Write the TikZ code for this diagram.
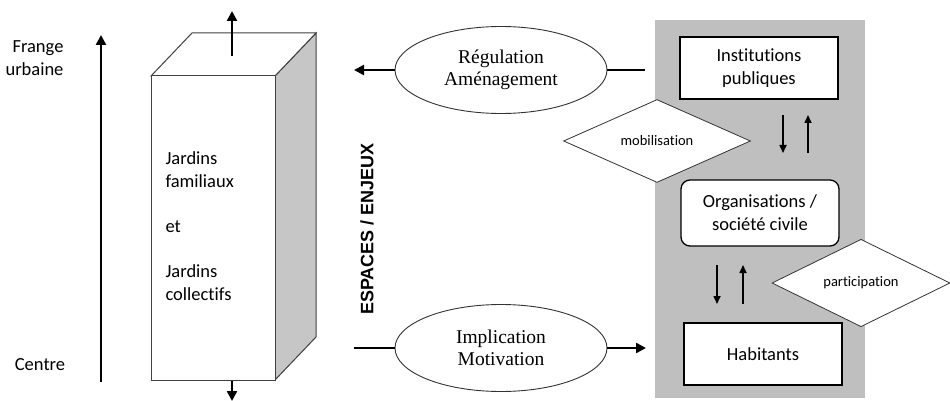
\documentclass[tikz,border=0pt]{standalone}
\usepackage{fontspec}
\setmainfont{Carlito}[Ligatures=NoCommon]
\newfontfamily\timesfont{Liberation Serif}
\newfontfamily\arialfont{Liberation Sans}
\usetikzlibrary{arrows.meta, shapes.geometric, shapes.misc}

\begin{document}
\begin{tikzpicture}[x=1pt, y=-1pt,
    every node/.style={font=\fontsize{18.5}{23}\selectfont},
    box/.style={draw, line width=1.3pt, fill=white, minimum width=158pt, minimum height=62pt, align=center},
    oval/.style={ellipse, draw=black!80, line width=0.9pt, fill=white, minimum width=212pt, minimum height=87pt, inner sep=0pt, align=center, font=\timesfont\fontsize{19.5}{22}\selectfont},
    losange/.style={diamond, draw=black!80, line width=0.8pt, fill=white, inner sep=0pt, font=\fontsize{14.5}{17}\selectfont},
    bigarrow/.style={-{Triangle[length=10pt,width=10pt]}, line width=2.4pt},
    smallarrow/.style={-{Triangle[length=8pt,width=7pt]}, line width=1.6pt}]
                \useasboundingbox (0,0) rectangle (950,401);

                % Centre / frange axis
                \node[align=right, anchor=east] (frange) at (67,58) {Frange\\urbaine};
                \node (centre) at (40,365) {Centre};
                \coordinate (axebas) at (101,382);
                \coordinate (axehaut) at (101,35);
                \draw[bigarrow] (axebas) -- (axehaut);

                % Gardens block
                \draw[draw=black!75, line width=1pt, fill=gray!45] (275,76) -- (316,33) -- (316,337) -- (275,380) -- cycle;
                \draw[draw=black!75, line width=1pt, fill=white] (151,76) -- (192,33) -- (316,33) -- (275,76) -- cycle;
                \node[draw=black!75, line width=1pt, fill=white, minimum width=124pt, minimum height=304pt, inner sep=0pt] (jardins) at (213,228) {};
                \node[anchor=west, align=left] (textejardins) at (162,226) {Jardins\\familiaux\\[22pt]et\\[22pt]Jardins\\collectifs};
                \coordinate (sortiehaut) at (232,56);
                \coordinate (pointehaut) at (232,11);
                \draw[bigarrow] (sortiehaut) -- (pointehaut);
                \coordinate (sortiebas) at (232,381);
                \coordinate (pointebas) at (232,401);
                \draw[bigarrow] (sortiebas) -- (pointebas);

                % Spaces / stakes
                \node[rotate=90, font=\arialfont\bfseries\fontsize{18}{20}\selectfont] (espaces) at (367,229) {ESPACES / ENJEUX};

                % Ovals
                \node[oval] (regulation) at (501,70) {Régulation\\Aménagement};
                \node[oval] (implication) at (501,348) {Implication\\Motivation};
                \coordinate (regfin) at (354,70);
                \coordinate (regdebut) at (645,70);
                \draw[bigarrow] (regulation.west) -- (regfin);
                \draw[line width=2.4pt] (regdebut) -- (regulation.east);
                \coordinate (impdebut) at (354,348);
                \coordinate (impfin) at (646,348);
                \draw[line width=2.4pt] (impdebut) -- (implication.west);
                \draw[bigarrow] (implication.east) -- (impfin);

                % Actors
                \fill[gray!50] (655,20) rectangle (865,398);
                \node[box] (institutions) at (759,68) {Institutions\\publiques};
                \node[box, rounded corners=9pt, minimum height=66pt] (organisations) at (760,213) {Organisations /\\société civile};
                \node[box] (habitants) at (763,354) {Habitants};

                % Exchanges
                \node[losange, minimum width=187pt, minimum height=70pt] (mobilisation) at (657,141) {mobilisation};
                \node[losange, minimum width=178pt, minimum height=70pt] (participation) at (861,283) {participation};
                \coordinate (descente1) at (783,115);
                \coordinate (arrivee1) at (783,153);
                \coordinate (montee1) at (808,153);
                \coordinate (retour1) at (808,115);
                \draw[smallarrow] (descente1) -- (arrivee1);
                \draw[smallarrow] (montee1) -- (retour1);
                \coordinate (descente2) at (717,265);
                \coordinate (arrivee2) at (717,304);
                \coordinate (montee2) at (743,304);
                \coordinate (retour2) at (743,265);
                \draw[smallarrow] (descente2) -- (arrivee2);
                \draw[smallarrow] (montee2) -- (retour2);
            \end{tikzpicture}
\end{document}
